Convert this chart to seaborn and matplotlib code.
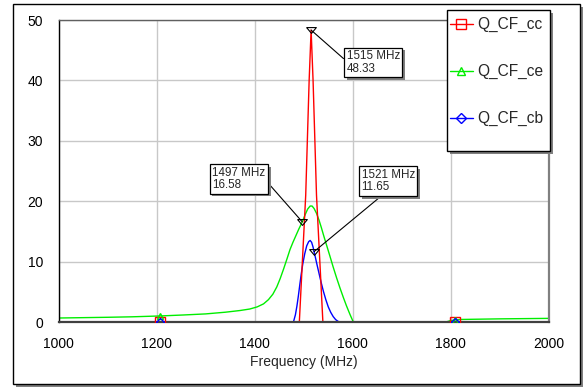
import numpy as np
import pandas as pd
import matplotlib
matplotlib.use("Agg")
import matplotlib.pyplot as plt
import matplotlib.patheffects as pe
from matplotlib.lines import Line2D
from matplotlib.patches import Rectangle
import seaborn as sns

# ---- trace data (frequency in MHz, Q factor) ----
cc_freq = [1000, 1300, 1491, 1504, 1511, 1515, 1519, 1526, 1539, 1800, 2000]
cc_q = [0, 0, 0, 21.0, 40.0, 48.33, 40.0, 21.0, 0, 0, 0]

ce_freq = [1000, 1050, 1100, 1150, 1207, 1254, 1300, 1340, 1370, 1390, 1405,
           1418, 1428, 1437, 1445, 1452, 1459, 1466, 1472, 1478, 1484, 1490,
           1497, 1503, 1508, 1513, 1517, 1521, 1526, 1531, 1536, 1541, 1547,
           1553, 1560, 1567, 1574, 1581, 1587, 1594, 1601, 1700, 1790, 1800,
           1820, 1900, 2000]
ce_q = [0.66, 0.72, 0.78, 0.86, 1.0, 1.16, 1.34, 1.62, 1.9, 2.15, 2.5,
        3.0, 3.7, 4.6, 5.8, 7.2, 8.8, 10.5, 12.0, 13.2, 14.3, 15.4,
        16.58, 17.8, 18.7, 19.2, 19.2, 18.8, 18.0, 16.9, 15.6, 14.2, 12.6,
        11.0, 9.1, 7.3, 5.6, 4.0, 2.7, 1.3, 0.0, 0.0, 0.0, 0.25,
        0.42, 0.52, 0.6]

cb_freq = [1000, 1479, 1483, 1486, 1489, 1492, 1495, 1498, 1502, 1506, 1510,
           1513, 1516, 1519, 1521, 1524, 1527, 1531, 1535, 1540, 1545, 1550,
           1555, 1560, 1565, 1570, 1574, 2000]
cb_q = [0, 0, 1.2, 2.6, 4.3, 6.2, 8.0, 9.6, 11.3, 12.6, 13.3,
        13.5, 13.2, 12.4, 11.65, 10.6, 9.5, 8.1, 6.7, 5.1, 3.7, 2.5,
        1.6, 0.9, 0.4, 0.1, 0, 0]

trace_names = ["Q_CF_cc", "Q_CF_ce", "Q_CF_cb"]
trace_colors = ["#ff0000", "#00ee00", "#0000ff"]
trace_markers = ["s", "^", "D"]
trace_marker_sizes = [6.5, 5.0, 4.2]

# symbol positions along each trace
symbol_freq = [1207, 1808]

# readout markers: (trace, frequency, value)
readout_trace = ["Q_CF_cc", "Q_CF_ce", "Q_CF_cb"]
readout_freq = [1515, 1497, 1521]
readout_val = [48.33, 16.58, 11.65]

x_ticks = [1000, 1200, 1400, 1600, 1800, 2000]
y_ticks = [0, 10, 20, 30, 40, 50]

sns.set_theme(style="white")
plt.rcParams["font.family"] = ["Liberation Sans", "DejaVu Sans"]

W, H = 588, 388
fig = plt.figure(figsize=(W / 100, H / 100), dpi=100)
fig.patch.set_facecolor("white")


def fx(px):
    return px / W


def fy(py):
    return 1 - py / H


# outer frame with drop shadow
fig.patches.append(Rectangle((fx(16), fy(387)), fx(567), 380 / H, transform=fig.transFigure,
                             fc="#808080", ec="none", zorder=-11))
fig.patches.append(Rectangle((fx(13), fy(384)), fx(567), 380 / H, transform=fig.transFigure,
                             fc="white", ec="black", lw=1, zorder=-10))

ax = fig.add_axes([fx(58.5), fy(322), fx(490.5), 302 / H])
ax.set_facecolor("white")

frames = []
for name, f, q in zip(trace_names, [cc_freq, ce_freq, cb_freq], [cc_q, ce_q, cb_q]):
    frames.append(pd.DataFrame({"Frequency": f, "Q": q, "Trace": name}))
df = pd.concat(frames, ignore_index=True)

palette = dict(zip(trace_names, trace_colors))
sns.lineplot(data=df, x="Frequency", y="Q", hue="Trace",
             hue_order=["Q_CF_ce", "Q_CF_cb", "Q_CF_cc"], palette=palette,
             estimator=None, sort=False, legend=False, linewidth=1.0, ax=ax)

# trace symbols
for name, f, q, c, m, ms in zip(trace_names, [cc_freq, ce_freq, cb_freq], [cc_q, ce_q, cb_q],
                                trace_colors, trace_markers, trace_marker_sizes):
    yv = np.interp(symbol_freq, f, q)
    ax.plot(symbol_freq, yv, linestyle="none", marker=m, ms=ms, mfc="none",
            mec=c, mew=1.0, zorder=4)

# readout markers
tri = [(-1.0, 0.6), (1.0, 0.6), (0.0, -0.6), (-1.0, 0.6)]
ax.plot(readout_freq, readout_val, linestyle="none", marker=tri, ms=7, mfc="none",
        mec="black", mew=0.8, zorder=6, clip_on=False)

# readout boxes (offsets in points, relative to each marker)
box_offsets = [(25.5, -14.5), (-26.5, 39.8), (34.2, 59.6)]
box_align = [("left", "top"), ("right", "top"), ("left", "top")]
leader_start = [(0.0, 0.55), (1.0, 0.45), (0.43, 0.0)]
for f, v, off, (ha, va), rp in zip(readout_freq, readout_val, box_offsets, box_align, leader_start):
    ann = ax.annotate(f"{f} MHz\n{v:.2f}", xy=(f, v), xytext=off, textcoords="offset points",
                      ha=ha, va=va, multialignment="left", fontsize=8.4, linespacing=1.05,
                      zorder=7,
                      bbox=dict(boxstyle="square,pad=0.22", fc="white", ec="black", lw=0.9),
                      arrowprops=dict(arrowstyle="-", color="black", lw=0.8,
                                      shrinkA=0, shrinkB=0, relpos=rp),
                      annotation_clip=False)
    ann.get_bbox_patch().set_path_effects([
        pe.SimplePatchShadow(offset=(2, -2), shadow_rgbFace="#808080", alpha=1.0),
        pe.Normal()])

ax.set_xlim(1000, 2000)
ax.set_ylim(0, 50)
ax.set_xticks(x_ticks)
ax.set_yticks(y_ticks)
ax.set_xticklabels([str(t) for t in x_ticks])
ax.set_yticklabels([str(t) for t in y_ticks])
ax.tick_params(axis="both", length=0, labelsize=10, colors="black")
ax.tick_params(axis="y", pad=11)
ax.tick_params(axis="x", pad=11)
ax.set_xlabel("Frequency (MHz)", fontsize=10, labelpad=3)
ax.set_ylabel("")
ax.grid(True, color="#c8c8c8", lw=1.0)
ax.set_axisbelow(True)

ax.spines["left"].set_color("black")
ax.spines["left"].set_linewidth(1.0)
ax.spines["bottom"].set_color("#404040")
ax.spines["bottom"].set_linewidth(1.6)
ax.spines["top"].set_color("#606060")
ax.spines["top"].set_linewidth(1.0)
ax.spines["right"].set_color("#808080")
ax.spines["right"].set_linewidth(1.6)
for s in ax.spines.values():
    s.set_visible(True)

# legend frame with shadow
fig.patches.append(Rectangle((fx(450), fy(154)), fx(103), 141 / H, transform=fig.transFigure,
                             fc="#808080", ec="none", zorder=2.9))
fig.patches.append(Rectangle((fx(447), fy(151)), fx(103), 141 / H, transform=fig.transFigure,
                             fc="white", ec="black", lw=1, zorder=3))

handles = [Line2D([0], [0], color=c, lw=1.0, marker=m, ms=ms + 1, mfc="none", mec=c, mew=1.0)
           for c, m, ms in zip(trace_colors, trace_markers, trace_marker_sizes)]
leg = fig.legend(handles=handles, labels=trace_names, loc="upper left",
                 bbox_to_anchor=(fx(450), fy(17)), frameon=False, fontsize=11.2,
                 handlelength=1.45, handletextpad=0.3, labelspacing=2.05,
                 borderpad=0, borderaxespad=0)
leg.set_zorder(5)

fig.savefig("out.png", dpi=100)
